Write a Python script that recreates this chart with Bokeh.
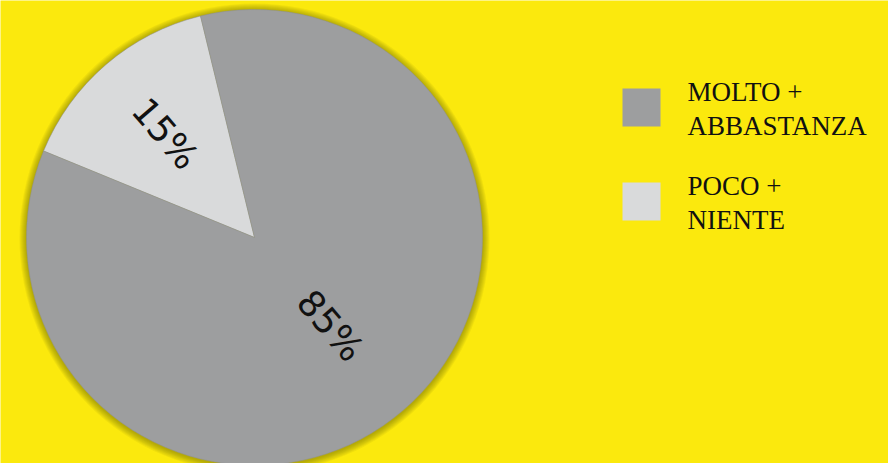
import math
from bokeh.plotting import figure
from bokeh.models import Range1d, ColumnDataSource
from bokeh.core.properties import value
from bokeh.embed import file_html
from bokeh.resources import INLINE

# ---- data ----
categories = ["MOLTO +\nABBASTANZA", "POCO +\nNIENTE"]
legend_lines = [["MOLTO +", "ABBASTANZA"], ["POCO +", "NIENTE"]]
values = [85, 15]
labels = ["85%", "15%"]
colors = ["#9d9e9f", "#d9dadb"]

# ---- layout ----
W, H = 888, 463
BG = "#fbe90d"
cx, cy_s, R = 254, 237, 228
cy = H - cy_s
start_deg = 103.7  # boundary between slices at top, going anticlockwise with 15% first
label_r = [0.51, 0.60]

p = figure(width=W, height=H, x_range=Range1d(0, W), y_range=Range1d(0, H),
           output_backend="svg", toolbar_location=None, min_border=0)
p.axis.visible = False
p.grid.visible = False
p.outline_line_color = None
p.background_fill_color = BG
p.border_fill_color = BG

# soft shadow
for k in range(7, 0, -1):
    p.circle(x=[cx], y=[cy - 1], radius=R + k, fill_color="#5a5400",
             fill_alpha=0.07, line_color=None)

# wedges: anticlockwise from start, order reversed (15% then 85%)
total = sum(values)
order = [1, 0]
a = math.radians(start_deg)
starts, ends, cols, mids = [], [], [], {}
for i in order:
    span = 2 * math.pi * values[i] / total
    starts.append(a)
    ends.append(a + span)
    cols.append(colors[i])
    mids[i] = a + span / 2
    a += span

src = ColumnDataSource(dict(x=[cx] * len(order), y=[cy] * len(order),
                            s=starts, e=ends, c=cols))
p.wedge(x="x", y="y", radius=R, start_angle="s", end_angle="e",
        direction="anticlock", fill_color="c", line_color="#8f9090",
        line_width=0.5, source=src)

# slice labels
lx, ly, la = [], [], []
for i in range(len(values)):
    m = mids[i]
    lx.append(cx + label_r[i] * R * math.cos(m))
    ly.append(cy + label_r[i] * R * math.sin(m))
    ang = m - math.pi if math.cos(m) < 0 else m
    la.append(ang)
p.text(x=lx, y=ly, text=labels, angle=la, text_align="center",
       text_baseline="middle", text_font=value("DejaVu Sans"),
       text_font_size="36px", text_color="#111111")

# legend
sq_x, sq_size = 641, 38
sq_y_s = [107, 201]
txt_x = 687
base_s = [[91, 125], [185, 219]]
p.rect(x=[sq_x] * 2, y=[H - v for v in sq_y_s], width=sq_size, height=sq_size,
       fill_color=colors, line_color=None)
tx, ty, tt = [], [], []
for i, lines in enumerate(legend_lines):
    for j, t in enumerate(lines):
        tx.append(txt_x)
        ty.append(H - base_s[i][j])
        tt.append(t)
p.text(x=tx, y=ty, text=tt, text_align="left", text_baseline="alphabetic",
       text_font=value("Liberation Serif"), text_font_size="27px",
       text_color="#111111")

open("out.html", "w").write(file_html(p, INLINE))
